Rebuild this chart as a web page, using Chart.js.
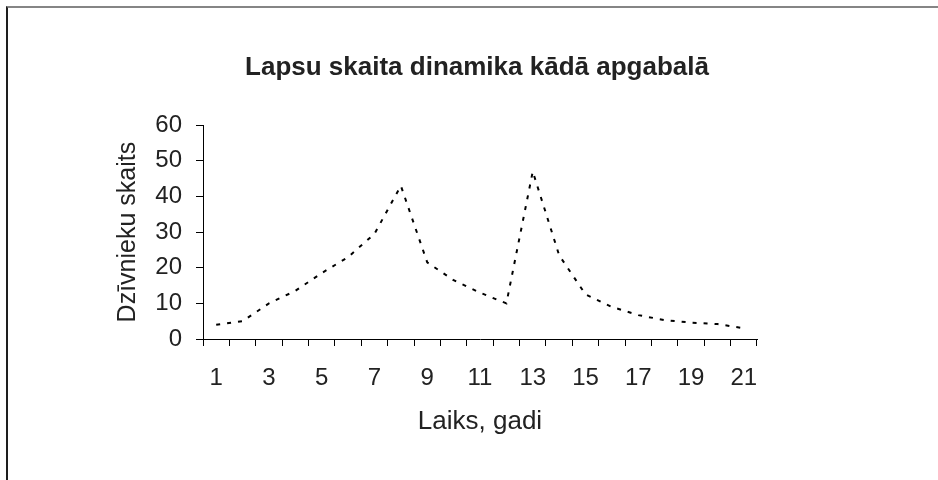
<!DOCTYPE html>
<html>
<head>
<meta charset="utf-8">
<script src="https://cdn.jsdelivr.net/npm/chart.js@4.4.1/dist/chart.umd.min.js"></script>
<style>
    body { margin: 0; background: #fff; }
    #wrap { position: relative; width: 938px; height: 480px; overflow: hidden; }
    #frame {
        position: absolute; left: 6px; top: 6px; width: 960px; height: 500px;
        border-top: 2px solid #858585; border-left: 2px solid #1e1e1e;
    }
    canvas { position: absolute; left: 0; top: 0; }
</style>
</head>
<body>
<div id="wrap">
    <div id="frame"></div>
    <canvas id="foxChart" width="938" height="480"></canvas>
</div>
<script>
const years = ['1', '2', '3', '4', '5', '6', '7', '8', '9', '10', '11',
    '12', '13', '14', '15', '16', '17', '18', '19', '20', '21'];
const foxCount = [4, 5, 10, 13.5, 18.5, 23, 29.5, 43, 21.5, 16.5, 13,
    10, 47, 23.5, 12.5, 9, 6.7, 5.3, 4.6, 4.2, 3];
const yTicks = [0, 10, 20, 30, 40, 50, 60];

const fontFamily = '"Liberation Sans", Arial, sans-serif';
const ink = '#222';

const dataFox = {
    labels: years,
    datasets: [{
        label: 'Lapsas',
        data: foxCount,
        borderColor: '#000',
        borderWidth: 2,
        borderDash: [4, 7],
        pointRadius: 0,
        tension: 0,
        fill: false
    }]
};

const configFox = {
    type: 'line',
    data: dataFox,
    options: {
        responsive: false,
        animation: false,
        devicePixelRatio: 1,
        layout: { padding: { left: 16, right: 0, top: 0, bottom: 0 } },
        plugins: {
            legend: { display: false },
            tooltip: { enabled: false },
            title: {
                display: true,
                text: 'Lapsu skaita dinamika kādā apgabalā',
                color: ink,
                font: { family: fontFamily, size: 26, weight: 'bold' },
                padding: { top: 52.7, bottom: 41.3 }
            }
        },
        scales: {
            x: {
                type: 'category',
                offset: true,
                grid: {
                    offset: true,
                    drawOnChartArea: false,
                    drawTicks: true,
                    tickLength: 7,
                    color: '#000'
                },
                border: { display: true, color: '#000', width: 1 },
                ticks: {
                    autoSkip: false,
                    maxRotation: 0,
                    padding: 18,
                    color: ink,
                    font: { family: fontFamily, size: 24 },
                    callback: function (val, i) {
                        return i % 2 === 0 ? this.getLabelForValue(val) : '';
                    }
                },
                title: {
                    display: true,
                    text: 'Laiks, gadi',
                    color: ink,
                    font: { family: fontFamily, size: 26 },
                    padding: { top: 0, bottom: 43 }
                },
                afterFit: (scale) => { scale.height = 141; }
            },
            y: {
                min: yTicks[0],
                max: yTicks[yTicks.length - 1],
                grid: {
                    drawOnChartArea: false,
                    drawTicks: true,
                    tickLength: 7,
                    color: '#000'
                },
                border: { display: true, color: '#000', width: 1 },
                afterBuildTicks: (scale) => {
                    scale.ticks = yTicks.map((v) => ({ value: v }));
                },
                ticks: {
                    padding: 14,
                    color: ink,
                    font: { family: fontFamily, size: 24 }
                },
                title: {
                    display: true,
                    text: 'Dzīvnieku skaits',
                    color: ink,
                    font: { family: fontFamily, size: 25 },
                    padding: { top: 97, bottom: 0 }
                },
                afterFit: (scale) => { scale.width = 187; }
            },
            // empty right-hand box, keeps the plot where the original has it
            yRight: {
                type: 'linear',
                position: 'right',
                display: true,
                grid: { display: false },
                border: { display: false },
                ticks: { display: false },
                afterFit: (scale) => { scale.width = 181; }
            }
        }
    }
};

new Chart(
    document.getElementById('foxChart'),
    configFox
);
</script>
</body>
</html>
